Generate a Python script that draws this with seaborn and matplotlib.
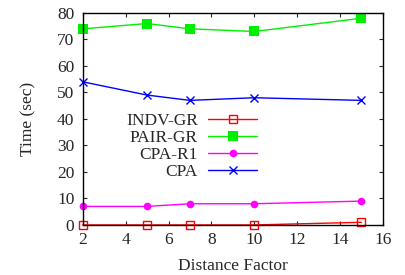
import pandas as pd
import matplotlib.pyplot as plt
import seaborn as sns

# Values.
distance = [2, 5, 7, 10, 15]
indv_gr = [0, 0, 0, 0, 1]
pair_gr = [74, 76, 74, 73, 78]
cpa_r1 = [7, 7, 8, 8, 9]
cpa = [54, 49, 47, 48, 47]

series = ['INDV-GR', 'PAIR-GR', 'CPA-R1', 'CPA']
colors = ['#ff0000', '#00ee00', '#ff00ff', '#0000ff']

df = pd.DataFrame({'Distance Factor': distance * 4,
                   'Time (sec)': indv_gr + pair_gr + cpa_r1 + cpa,
                   'Method': [s for s in series for _ in distance]})

sns.set_style('ticks')
plt.rcParams['font.family'] = ['Liberation Serif', 'DejaVu Serif']
plt.rcParams['font.size'] = 12.5

fig = plt.figure(figsize=(4.06, 2.75), dpi=100)
ax = fig.add_axes([0.204, 0.182, 0.739, 0.771])

styles = {'INDV-GR': dict(marker='s', mfc='none', ms=6, mew=1.0),
          'PAIR-GR': dict(marker='s', ms=6.5, mew=0),
          'CPA-R1': dict(marker='o', ms=5.5, mew=0),
          'CPA': dict(marker='x', ms=6, mew=1.0)}

for name, col in zip(series, colors):
    sub = df[df['Method'] == name]
    sns.lineplot(data=sub, x='Distance Factor', y='Time (sec)', ax=ax,
                 color=col, label=name, lw=1.0, mec=col, clip_on=False,
                 **styles[name])

ax.set_xlim(2, 16)
ax.set_ylim(0, 80)
ax.set_xticks(range(2, 17, 2))
ax.set_yticks(range(0, 81, 10))
ax.tick_params(direction='in', top=True, right=True, length=3, width=0.8,
               labelsize=12.5)
ax.tick_params(axis='x', pad=5)
ax.tick_params(axis='y', pad=6)
for sp in ax.spines.values():
    sp.set_linewidth(1.0)
    sp.set_color('black')
ax.set_xlabel('Distance Factor', fontsize=12.5, labelpad=7)
ax.set_ylabel('Time (sec)', fontsize=12.5, labelpad=15)

ax.legend(loc='center right', bbox_to_anchor=(0.58, 0.372), frameon=False,
          markerfirst=False, fontsize=12.5, handlelength=2.8, handletextpad=0.6,
          labelspacing=0.05, borderaxespad=0, borderpad=0)

fig.savefig('out.png', dpi=100)
